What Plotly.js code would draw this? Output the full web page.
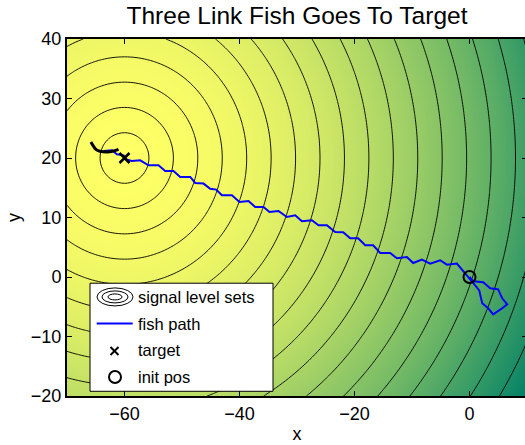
<!DOCTYPE html>
<html>
<head>
<meta charset="utf-8">
<script src="https://cdn.plot.ly/plotly-3.0.1.min.js"></script>
<style>
html,body{margin:0;padding:0;overflow:hidden;background:#fff;}
#plot{width:528px;height:445px;}
</style>
</head>
<body>
<div id="plot"></div>
<script>
// ---- data ----
const sourcePos = [-60, 20];          // signal source (= target)
const levelStep = 4.25;               // spacing of signal level sets
const xRange = [-70, 10];
const yRange = [-20, 40];
const xTicks = [-60, -40, -20, 0];
const yTicks = [-20, -10, 0, 10, 20, 30, 40];

const fishPathX = [0, 0.64, 2.38, 3.6, 4.99, 5.69, 6.56, 5.69, 4.12, 3.25, 2.21, 1.69, 0.99, 0.12,
  -1.04, -2.19, -3.93, -5.1, -6.83, -8.28, -9.79, -10.89, -12.63, -13.79, -15.53, -16.75, -18.14,
  -19.36, -20.75, -21.97, -23.36, -24.8, -26.26, -27.41, -29.15, -30.31, -31.76, -33.22, -34.78,
  -35.83, -37.27, -38.43, -40.0, -41.32, -43.06, -44.05, -45.1, -46.26, -47.7, -48.57, -50.31,
  -51.48, -52.92, -54.09, -55.83, -57.27, -58.71, -59.58, -60.17, -61.32, -62.19, -63.65];
const fishPathY = [0, -0.72, -0.89, -1.9, -2.07, -3.58, -4.59, -5.26, -6.27, -5.26, -4.42, -2.24, -1.4, -0.39,
  0.84, 2.25, 2.08, 2.81, 2.25, 2.92, 2.35, 3.36, 3.14, 4.03, 4.03, 5.33, 5.33,
  6.5, 6.5, 7.51, 7.56, 8.69, 8.69, 9.53, 9.36, 10.37, 10.08, 11.09, 10.92,
  11.76, 11.76, 12.77, 12.61, 13.73, 13.73, 14.69, 14.82, 15.7, 15.8, 16.81, 16.81,
  17.82, 17.82, 18.77, 18.77, 19.61, 19.5, 19.73, 20.45, 20.62, 21.29, 21.18];

const fishBodyX = [-65.84, -64.92, -64.23, -63.06, -61.91, -61.04];
const fishBodyY = [22.69, 21.41, 21.13, 21.01, 21.18, 21.46];

const targetX = [-60], targetY = [20];
const initX = [0], initY = [0];

const legendLabels = ["signal level sets", "fish path", "target", "init pos"];

// ---- signal field on a grid (distance from source) ----
const gx = [], gy = [];
for (let v = xRange[0]; v <= xRange[1] + 1e-9; v += 0.5) gx.push(v);
for (let v = yRange[0]; v <= yRange[1] + 1e-9; v += 0.5) gy.push(v);
const gz = gy.map(yy => gx.map(xx => Math.hypot(xx - sourcePos[0], yy - sourcePos[1])));
const zMax = Math.hypot(xRange[1] - sourcePos[0], yRange[0] - sourcePos[1]);

// MATLAB "summer" colormap, mapped on the squared distance
const cs = [];
for (let i = 0; i <= 20; i++) {
  const s = i / 20, t = 1 - s * s;
  cs.push([s, `rgb(${Math.round(255 * t)},${Math.round(128 + 127 * t)},102)`]);
}

const traces = [
  {
    type: 'contour', x: gx, y: gy, z: gz,
    zauto: false, zmin: 0, zmax: zMax,
    colorscale: cs, showscale: false, hoverinfo: 'skip',
    contours: {coloring: 'heatmap', start: levelStep, end: 90, size: levelStep, showlines: true},
    line: {color: 'black', width: 0.9, smoothing: 1},
    showlegend: false
  },
  {type: 'scatter', mode: 'lines', x: fishPathX, y: fishPathY,
   line: {color: 'rgb(0,0,255)', width: 2}, showlegend: false},
  {type: 'scatter', mode: 'lines', x: fishBodyX, y: fishBodyY,
   line: {color: 'black', width: 3, shape: 'spline'}, showlegend: false},
  {type: 'scatter', mode: 'markers', x: targetX, y: targetY,
   marker: {symbol: 'x-thin', size: 10, line: {color: 'black', width: 2.5}}, showlegend: false},
  {type: 'scatter', mode: 'markers', x: initX, y: initY,
   marker: {symbol: 'circle-open', size: 12, color: 'black', line: {color: 'black', width: 2}}, showlegend: false}
];

// ---- hand-made legend (pixel positions -> paper) ----
const L = 67, R = 527, T = 39, B = 395.7;
const PX = p => (p - L) / (R - L);
const PY = p => (B - p) / (B - T);
const shapes = [
  {type: 'rect', xref: 'paper', yref: 'paper', x0: PX(90), x1: PX(273), y0: PY(391), y1: PY(283),
   fillcolor: 'white', line: {color: 'black', width: 1}},
  {type: 'circle', xref: 'paper', yref: 'paper', x0: PX(97), x1: PX(133), y0: PY(305.7), y1: PY(287.7), line: {color: 'black', width: 1}},
  {type: 'circle', xref: 'paper', yref: 'paper', x0: PX(102), x1: PX(128), y0: PY(302.7), y1: PY(290.7), line: {color: 'black', width: 1}},
  {type: 'circle', xref: 'paper', yref: 'paper', x0: PX(108), x1: PX(122), y0: PY(299.7), y1: PY(293.7), line: {color: 'black', width: 1}},
  {type: 'line', xref: 'paper', yref: 'paper', x0: PX(96.7), x1: PX(132.7), y0: PY(323.3), y1: PY(323.3), line: {color: 'rgb(0,0,255)', width: 2}},
  {type: 'line', xref: 'paper', yref: 'paper', x0: PX(110.5), x1: PX(118.5), y0: PY(346.7), y1: PY(354.7), line: {color: 'black', width: 2}},
  {type: 'line', xref: 'paper', yref: 'paper', x0: PX(110.5), x1: PX(118.5), y0: PY(354.7), y1: PY(346.7), line: {color: 'black', width: 2}},
  {type: 'circle', xref: 'paper', yref: 'paper', x0: PX(109), x1: PX(121), y0: PY(382.7), y1: PY(370.7), line: {color: 'black', width: 2}}
];
const rowY = [296.7, 323.3, 350.2, 376.7];
const annotations = legendLabels.map((txt, i) => ({
  text: txt, xref: 'paper', yref: 'paper', x: PX(135.5), y: PY(rowY[i]),
  xanchor: 'left', yanchor: 'middle', showarrow: false,
  font: {family: 'Liberation Sans, Arial, sans-serif', size: 16.5, color: 'black'}
}));

const font = {family: 'Liberation Sans, Arial, sans-serif', color: 'black'};
const layout = {
  width: 528, height: 445,
  margin: {l: L, r: 528 - R, t: T, b: 445 - B, pad: 0},
  paper_bgcolor: 'white', plot_bgcolor: 'white',
  font: font,
  title: {text: 'Three Link Fish Goes To Target', x: 0.5, xref: 'paper', xanchor: 'center',
          y: 1 - 15 / 445, yref: 'container', yanchor: 'middle',
          font: Object.assign({}, font, {size: 24.5})},
  xaxis: {range: xRange, tickvals: xTicks, ticks: 'inside', ticklen: 5, tickwidth: 1, tickcolor: 'black',
          showline: true, linecolor: 'black', linewidth: 2, mirror: 'ticks',
          showgrid: false, zeroline: false, tickfont: Object.assign({}, font, {size: 18}),
          title: {text: 'x', standoff: 5, font: Object.assign({}, font, {size: 18})}},
  yaxis: {range: yRange, tickvals: yTicks, ticks: 'inside', ticklen: 5, tickwidth: 1, tickcolor: 'black',
          showline: true, linecolor: 'black', linewidth: 2, mirror: 'ticks',
          showgrid: false, zeroline: false, tickfont: Object.assign({}, font, {size: 18}),
          title: {text: 'y', standoff: 6, font: Object.assign({}, font, {size: 18})}},
  shapes: shapes, annotations: annotations, showlegend: false
};

Plotly.newPlot('plot', traces, layout, {displayModeBar: false, staticPlot: true});
</script>
</body>
</html>
